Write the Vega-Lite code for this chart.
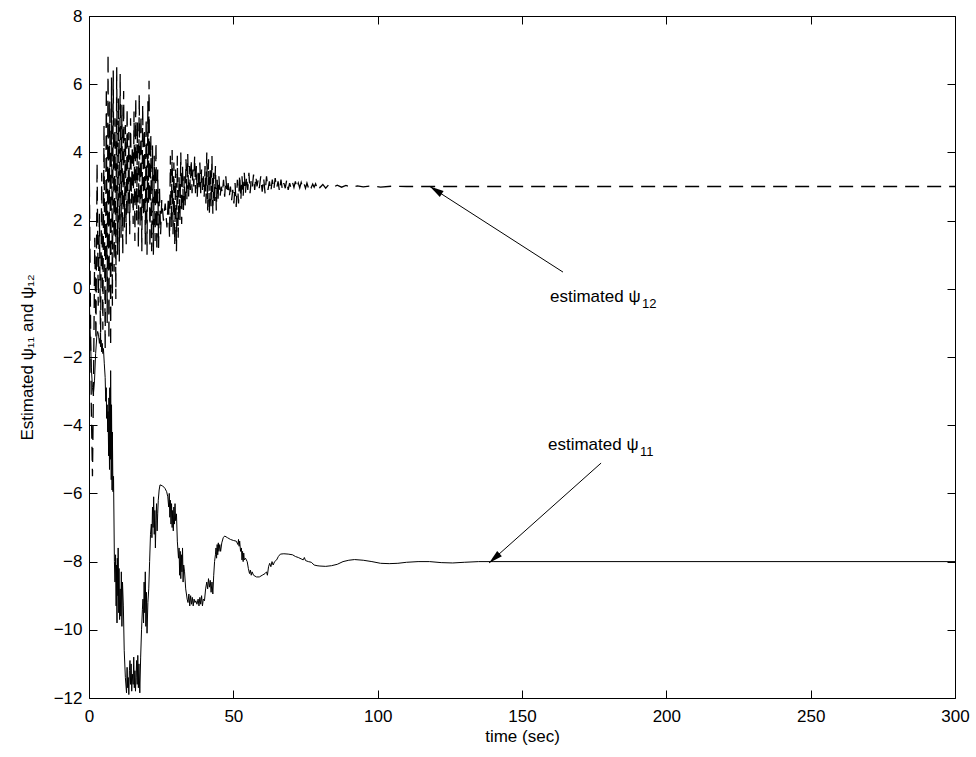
{
  "$schema": "https://vega.github.io/schema/vega-lite/v6.json",
  "width": 866,
  "height": 682,
  "autosize": {"type": "none"},
  "padding": {"left": 89, "top": 16, "right": 21, "bottom": 59},
  "background": "white",
  "config": {
    "view": {"stroke": "black", "strokeWidth": 1},
    "font": "Liberation Sans",
    "axis": {
      "labelFont": "Liberation Sans", "titleFont": "Liberation Sans",
      "labelFontSize": 17, "titleFontSize": 17, "titleFontWeight": "normal",
      "labelColor": "black", "titleColor": "black", "tickColor": "black",
      "domain": false, "grid": false, "tickSize": -8, "tickWidth": 1,
      "labelFlush": false, "labelOverlap": false
    }
  },
  "datasets": {
    "psi11": [
      {"t":0,"v":0},{"t":0.4,"v":-1.2},{"t":0.8,"v":-2.3},{"t":1.2,"v":-2.9},{"t":1.5,"v":-3.1},{"t":1.9,"v":-2.7},{"t":2.3,"v":-1.9},{"t":2.7,"v":-1.4},{"t":3.0,"v":-1.25},{"t":3.3,"v":-1.35},{"t":3.6,"v":-1.6},{"t":3.8,"v":-1.45},{"t":4.0,"v":-1.7},{"t":4.2,"v":-1.5},{"t":4.4,"v":-1.85},{"t":4.6,"v":-1.6},{"t":4.8,"v":-1.9},{"t":5.0,"v":-1.75},{"t":5.3,"v":-2.2},{"t":5.6,"v":-2.6},{"t":5.8,"v":-3.3},{"t":6.0,"v":-2.9},{"t":6.1,"v":-3.8},{"t":6.3,"v":-3.4},{"t":6.5,"v":-4.2},{"t":6.6,"v":-3.6},{"t":6.8,"v":-4.9},{"t":6.9,"v":-3.2},{"t":7.1,"v":-5.3},{"t":7.2,"v":-2.9},{"t":7.4,"v":-5.0},{"t":7.5,"v":-2.4},{"t":7.7,"v":-5.6},{"t":7.8,"v":-3.4},{"t":8.0,"v":-5.9},{"t":8.1,"v":-4.2},{"t":8.3,"v":-5.95},{"t":8.5,"v":-5.5},
      {"t":8.8,"v":-8.0},{"t":9.0,"v":-8.6},{"t":9.2,"v":-7.8},{"t":9.4,"v":-9.3},{"t":9.5,"v":-8.1},{"t":9.7,"v":-9.8},{"t":9.8,"v":-7.9},{"t":10.0,"v":-9.0},{"t":10.1,"v":-7.6},{"t":10.3,"v":-9.5},{"t":10.4,"v":-8.2},{"t":10.6,"v":-9.7},{"t":10.8,"v":-8.8},{"t":11.0,"v":-9.6},{"t":11.2,"v":-8.3},{"t":11.4,"v":-9.9},{"t":11.6,"v":-8.6},{"t":11.9,"v":-9.3},{"t":12.2,"v":-10.6},{"t":12.6,"v":-11.4},{"t":13.0,"v":-11.85},{"t":13.2,"v":-11.1},{"t":13.4,"v":-11.7},{"t":13.6,"v":-11.4},{"t":13.8,"v":-11.9},{"t":14.0,"v":-11.2},{"t":14.2,"v":-10.9},{"t":14.4,"v":-11.6},{"t":14.6,"v":-11.0},{"t":14.8,"v":-11.8},{"t":15.0,"v":-11.3},{"t":15.3,"v":-11.6},{"t":15.5,"v":-10.8},{"t":15.7,"v":-11.7},{"t":15.9,"v":-11.2},{"t":16.1,"v":-11.8},{"t":16.3,"v":-11.4},{"t":16.5,"v":-10.9},{"t":16.7,"v":-11.6},{"t":16.9,"v":-10.75},{"t":17.1,"v":-11.7},{"t":17.3,"v":-11.0},{"t":17.6,"v":-11.85},{"t":17.9,"v":-10.8},{"t":18.2,"v":-10.0},{"t":18.5,"v":-9.4},{"t":18.7,"v":-9.1},{"t":18.9,"v":-9.8},{"t":19.1,"v":-8.6},{"t":19.3,"v":-9.5},{"t":19.5,"v":-8.3},{"t":19.7,"v":-9.9},{"t":19.9,"v":-8.9},{"t":20.1,"v":-10.1},{"t":20.4,"v":-9.2},{"t":20.7,"v":-8.8},{"t":21.0,"v":-8.0},{"t":21.3,"v":-7.2},{"t":21.6,"v":-6.9},{"t":21.8,"v":-7.3},{"t":22.0,"v":-6.4},{"t":22.2,"v":-7.0},{"t":22.4,"v":-6.1},{"t":22.6,"v":-7.2},{"t":22.8,"v":-6.5},{"t":23.0,"v":-7.6},{"t":23.2,"v":-6.8},{"t":23.4,"v":-6.3},{"t":23.6,"v":-7.1},{"t":23.8,"v":-6.6},{"t":24.0,"v":-6.2},{"t":24.3,"v":-5.9},{"t":24.6,"v":-5.75},{"t":25.5,"v":-5.78},{"t":26.3,"v":-5.85},{"t":26.9,"v":-5.95},{"t":27.3,"v":-6.1},{"t":27.6,"v":-6.4},{"t":27.8,"v":-6.0},{"t":28.0,"v":-6.7},{"t":28.2,"v":-6.2},{"t":28.4,"v":-6.9},{"t":28.6,"v":-6.3},{"t":28.8,"v":-7.0},{"t":29.0,"v":-6.5},{"t":29.2,"v":-7.1},{"t":29.4,"v":-6.4},{"t":29.6,"v":-6.9},{"t":29.8,"v":-6.3},{"t":30.0,"v":-6.8},{"t":30.3,"v":-6.6},{"t":30.6,"v":-7.4},
      {"t":31.0,"v":-7.9},{"t":31.2,"v":-7.6},{"t":31.4,"v":-8.4},{"t":31.6,"v":-7.7},{"t":31.8,"v":-8.5},{"t":32.0,"v":-7.8},{"t":32.2,"v":-8.3},{"t":32.4,"v":-7.6},{"t":32.6,"v":-8.6},{"t":32.8,"v":-8.1},{"t":33.1,"v":-8.3},{"t":33.5,"v":-8.8},{"t":34.0,"v":-9.1},{"t":34.3,"v":-9.2},{"t":34.6,"v":-8.95},{"t":34.9,"v":-9.3},{"t":35.2,"v":-9.0},{"t":35.5,"v":-9.25},{"t":35.8,"v":-9.05},{"t":36.1,"v":-9.3},{"t":36.4,"v":-9.1},{"t":36.7,"v":-9.2},{"t":37.0,"v":-9.15},{"t":37.4,"v":-9.25},{"t":37.8,"v":-9.1},{"t":38.1,"v":-9.3},{"t":38.4,"v":-9.05},{"t":38.7,"v":-9.25},{"t":39.0,"v":-9.0},{"t":39.3,"v":-9.3},{"t":39.6,"v":-9.1},{"t":40.0,"v":-9.15},{"t":40.4,"v":-8.8},{"t":40.8,"v":-8.6},{"t":41.1,"v":-8.8},{"t":41.4,"v":-8.5},{"t":41.7,"v":-8.75},{"t":42.0,"v":-8.55},{"t":42.3,"v":-8.9},{"t":42.6,"v":-8.6},{"t":42.9,"v":-8.95},{"t":43.2,"v":-8.4},{"t":43.5,"v":-8.0},{"t":43.8,"v":-7.8},{"t":44.0,"v":-7.6},{"t":44.2,"v":-7.9},{"t":44.4,"v":-7.5},{"t":44.6,"v":-7.8},{"t":44.8,"v":-7.45},{"t":45.0,"v":-7.7},{"t":45.3,"v":-7.5},{"t":45.6,"v":-7.7},{"t":46.0,"v":-7.45},{"t":46.5,"v":-7.3},{"t":47.0,"v":-7.25},{"t":48.0,"v":-7.3},{"t":49.0,"v":-7.35},{"t":50.0,"v":-7.38},{"t":51.0,"v":-7.4},{"t":51.6,"v":-7.5},{"t":51.8,"v":-7.35},{"t":52.0,"v":-7.55},{"t":52.2,"v":-7.4},{"t":52.5,"v":-7.7},{"t":52.8,"v":-7.6},{"t":53.0,"v":-7.95},{"t":53.2,"v":-7.7},{"t":53.4,"v":-8.0},{"t":53.6,"v":-7.75},{"t":53.8,"v":-7.95},{"t":54.2,"v":-7.9},{"t":54.8,"v":-8.0},{"t":55.2,"v":-8.2},{"t":55.6,"v":-8.35},{"t":55.9,"v":-8.25},{"t":56.2,"v":-8.4},{"t":56.5,"v":-8.3},{"t":57.0,"v":-8.4},{"t":58.0,"v":-8.45},{"t":59.0,"v":-8.45},{"t":60.0,"v":-8.4},{"t":61.0,"v":-8.35},{"t":61.5,"v":-8.3},{"t":61.8,"v":-8.4},{"t":62.2,"v":-8.15},{"t":62.6,"v":-8.05},{"t":63.0,"v":-8.15},{"t":63.4,"v":-8.0},{"t":63.8,"v":-8.1},{"t":64.3,"v":-8.0},{"t":65.0,"v":-7.95},{"t":65.6,"v":-7.85},{"t":66.3,"v":-7.78},{"t":67.5,"v":-7.77},{"t":69.0,"v":-7.78},{"t":70.5,"v":-7.8},{"t":71.5,"v":-7.85},{"t":72.5,"v":-7.88},{"t":73.5,"v":-7.92},{"t":74.2,"v":-7.95},{"t":74.6,"v":-7.88},{"t":75.0,"v":-7.97},{"t":76.0,"v":-8.0},{"t":77.0,"v":-8.02},{"t":78.0,"v":-8.1},{"t":79.0,"v":-8.12},{"t":80.0,"v":-8.13},{"t":82.0,"v":-8.14},{"t":84.0,"v":-8.12},{"t":86.0,"v":-8.08},{"t":88.0,"v":-8.0},{"t":90.0,"v":-7.96},{"t":92.0,"v":-7.94},{"t":95.0,"v":-7.96},{"t":98.0,"v":-8.0},{"t":101.0,"v":-8.05},{"t":104.0,"v":-8.06},{"t":107.0,"v":-8.05},{"t":110.0,"v":-8.02},{"t":114.0,"v":-8.0},{"t":118.0,"v":-8.0},{"t":122.0,"v":-8.03},{"t":126.0,"v":-8.04},{"t":130.0,"v":-8.02},{"t":135.0,"v":-8.0},{"t":140.0,"v":-8.0},{"t":300.0,"v":-8.0}
    ],
    "psi12": [
      {"t":0.0,"v":4.4},{"t":0.4,"v":0.5},{"t":0.8,"v":-3.5},{"t":1.2,"v":-5.5},{"t":1.6,"v":-2.5},{"t":2.0,"v":1.5},{"t":2.4,"v":-1.5},{"t":2.8,"v":3.7},{"t":3.2,"v":-0.5},{"t":3.6,"v":2.2},{"t":4.0,"v":-1.6},{"t":4.4,"v":3.4},{"t":4.8,"v":-1.2},{"t":5.2,"v":4.8},{"t":5.6,"v":-1.8},{"t":6.0,"v":5.9},{"t":6.3,"v":-1.0},{"t":6.6,"v":6.9},{"t":6.9,"v":-1.5},{"t":7.2,"v":5.5},{"t":7.5,"v":-1.7},{"t":7.8,"v":6.2},{"t":8.1,"v":-0.5},{"t":8.4,"v":6.4},{"t":8.7,"v":0.5},{"t":9.0,"v":5.0},{"t":9.3,"v":-0.3},{"t":9.6,"v":6.5},{"t":9.9,"v":1.0},{"t":10.2,"v":5.6},{"t":10.5,"v":0.8},{"t":10.8,"v":6.3},{"t":11.1,"v":1.5},{"t":11.4,"v":5.4},{"t":11.7,"v":1.0},{"t":12.0,"v":5.8},{"t":12.3,"v":1.8},{"t":12.6,"v":4.8},{"t":12.9,"v":1.3},{"t":13.2,"v":5.3},{"t":13.5,"v":2.2},{"t":13.8,"v":4.6},{"t":14.1,"v":1.6},{"t":14.4,"v":5.0},{"t":14.7,"v":2.5},{"t":15.0,"v":4.2},{"t":15.3,"v":1.9},{"t":15.6,"v":5.2},{"t":15.9,"v":1.4},{"t":16.2,"v":5.6},{"t":16.5,"v":2.0},{"t":16.8,"v":4.9},{"t":17.1,"v":1.2},{"t":17.4,"v":5.7},{"t":17.7,"v":1.8},{"t":18.0,"v":5.1},{"t":18.3,"v":1.1},{"t":18.6,"v":5.4},{"t":18.9,"v":2.1},{"t":19.2,"v":4.7},{"t":19.5,"v":1.3},{"t":19.8,"v":5.0},{"t":20.1,"v":1.0},{"t":20.4,"v":5.5},{"t":20.6,"v":2.5},{"t":20.8,"v":6.1},{"t":21.1,"v":1.2},{"t":21.4,"v":4.5},{"t":21.7,"v":1.1},{"t":22.0,"v":4.2},{"t":22.3,"v":1.0},{"t":22.6,"v":3.9},{"t":22.9,"v":1.4},{"t":23.2,"v":4.3},{"t":23.5,"v":1.1},{"t":23.8,"v":3.5},{"t":24.1,"v":1.2},{"t":24.4,"v":3.0},{"t":24.8,"v":1.6},{"t":25.2,"v":2.6},{"t":25.8,"v":2.0},{"t":26.4,"v":2.5},{"t":27.0,"v":1.8},{"t":27.5,"v":2.7},{"t":27.9,"v":1.5},{"t":28.2,"v":3.9},{"t":28.5,"v":1.8},{"t":28.8,"v":4.07},{"t":29.1,"v":1.6},{"t":29.4,"v":3.7},{"t":29.7,"v":1.3},{"t":30.0,"v":3.5},{"t":30.3,"v":1.1},{"t":30.6,"v":3.9},{"t":30.9,"v":1.5},{"t":31.2,"v":3.3},{"t":31.5,"v":2.0},{"t":31.8,"v":4.0},{"t":32.1,"v":1.9},{"t":32.4,"v":3.6},{"t":32.7,"v":2.3},{"t":33.0,"v":3.3},{"t":33.3,"v":2.4},{"t":33.6,"v":3.8},{"t":33.9,"v":2.6},{"t":34.2,"v":3.95},{"t":34.5,"v":2.7},{"t":34.8,"v":3.6},{"t":35.1,"v":2.9},{"t":35.4,"v":3.8},{"t":35.7,"v":2.8},{"t":36.0,"v":3.5},{"t":36.3,"v":3.0},{"t":36.6,"v":3.9},{"t":36.9,"v":2.8},{"t":37.2,"v":3.6},{"t":37.5,"v":2.7},{"t":37.8,"v":3.4},{"t":38.1,"v":2.9},{"t":38.4,"v":3.7},{"t":38.7,"v":2.8},{"t":39.0,"v":3.5},{"t":39.3,"v":2.9},{"t":39.6,"v":3.3},{"t":39.9,"v":2.7},{"t":40.2,"v":3.6},{"t":40.5,"v":2.5},{"t":40.8,"v":4.0},{"t":41.1,"v":2.3},{"t":41.4,"v":3.8},{"t":41.7,"v":2.2},{"t":42.0,"v":3.5},{"t":42.3,"v":2.4},{"t":42.6,"v":3.9},{"t":42.9,"v":2.2},{"t":43.2,"v":3.4},{"t":43.5,"v":2.5},{"t":43.8,"v":3.6},{"t":44.1,"v":2.3},{"t":44.4,"v":3.2},{"t":44.7,"v":2.6},{"t":45.0,"v":3.3},{"t":45.4,"v":2.7},{"t":45.8,"v":3.0},{"t":46.2,"v":2.8},{"t":46.6,"v":3.2},{"t":47.0,"v":2.7},{"t":47.4,"v":3.3},{"t":47.8,"v":2.8},{"t":48.2,"v":3.1},{"t":48.6,"v":2.7},{"t":49.0,"v":3.0},{"t":49.4,"v":2.6},{"t":49.8,"v":2.9},{"t":50.2,"v":2.5},{"t":50.6,"v":3.1},{"t":51.0,"v":2.4},{"t":51.4,"v":3.2},{"t":51.8,"v":2.5},{"t":52.2,"v":3.35},{"t":52.6,"v":2.6},{"t":53.0,"v":3.3},{"t":53.4,"v":2.7},{"t":53.8,"v":3.4},{"t":54.2,"v":2.8},{"t":54.6,"v":3.3},{"t":55.0,"v":2.9},{"t":55.4,"v":3.4},{"t":55.8,"v":2.8},{"t":56.2,"v":3.2},{"t":56.6,"v":3.0},{"t":57.0,"v":3.35},{"t":57.4,"v":2.9},{"t":57.8,"v":3.3},{"t":58.2,"v":3.0},{"t":58.6,"v":3.2},{"t":59.0,"v":2.95},{"t":59.5,"v":3.3},{"t":60.0,"v":2.85},{"t":60.5,"v":3.25},{"t":61.0,"v":2.8},{"t":61.5,"v":3.3},{"t":62.0,"v":2.9},{"t":62.5,"v":3.15},{"t":63.0,"v":2.85},{"t":63.5,"v":3.2},{"t":64.0,"v":2.9},{"t":64.5,"v":3.25},{"t":65.0,"v":2.95},{"t":65.5,"v":3.15},{"t":66.0,"v":2.85},{"t":66.5,"v":3.2},{"t":67.0,"v":2.9},{"t":67.5,"v":3.1},{"t":68.0,"v":2.95},{"t":68.5,"v":3.2},{"t":69.0,"v":2.9},{"t":69.5,"v":3.1},{"t":70.0,"v":2.95},{"t":70.5,"v":3.12},{"t":71.0,"v":2.97},{"t":71.5,"v":3.15},{"t":72.0,"v":2.95},{"t":72.5,"v":3.1},{"t":73.0,"v":2.96},{"t":73.5,"v":3.12},{"t":74.0,"v":2.97},{"t":74.5,"v":3.08},{"t":75.0,"v":2.95},{"t":75.5,"v":3.1},{"t":76.0,"v":2.96},{"t":76.5,"v":3.08},{"t":77.0,"v":2.97},{"t":77.5,"v":3.07},{"t":78.0,"v":2.98},{"t":78.5,"v":3.08},{"t":79.0,"v":2.96},{"t":79.5,"v":3.06},{"t":80.0,"v":2.97},{"t":81.0,"v":3.06},{"t":82.0,"v":2.95},{"t":83.0,"v":3.05},{"t":84.5,"v":2.97},{"t":86.0,"v":3.04},{"t":87.5,"v":2.98},{"t":89.0,"v":3.03},{"t":91.0,"v":2.97},{"t":93.0,"v":3.02},{"t":95.0,"v":2.99},{"t":98.0,"v":3.02},{"t":101.0,"v":2.98},{"t":105.0,"v":3.01},{"t":110.0,"v":3.0},{"t":300.0,"v":3.0}
    ],
    "arrows": [
      {"name": "psi12", "t": 164.2, "v": 0.49, "t2": 118.1, "v2": 3.0},
      {"name": "psi11", "t": 177.4, "v": -5.11, "t2": 138.6, "v2": -8.04}
    ],
    "labels": [
      {"t": 159.7, "v": -0.39, "text": "estimated ψ", "sub": "12"},
      {"t": 159.0, "v": -4.73, "text": "estimated ψ", "sub": "11"}
    ]
  },
  "layer": [
    {
      "data": {"name": "psi11"},
      "mark": {"type": "line", "color": "black", "strokeWidth": 1, "clip": true},
      "encoding": {
        "x": {"field": "t", "type": "quantitative", "scale": {"domain": [0, 300], "nice": false, "zero": false},
              "axis": {"orient": "bottom", "values": [0, 50, 100, 150, 200, 250, 300], "title": "time (sec)", "labelPadding": 18, "titlePadding": 4}},
        "y": {"field": "v", "type": "quantitative", "scale": {"domain": [-12, 8], "nice": false, "zero": false},
              "axis": {"orient": "left", "values": [-12, -10, -8, -6, -4, -2, 0, 2, 4, 6, 8], "title": "Estimated ψ₁₁ and ψ₁₂", "labelPadding": 15, "titlePadding": 17}}
      }
    },
    {
      "data": {"name": "psi12"},
      "mark": {"type": "line", "color": "black", "strokeWidth": 1.3, "strokeDash": [14, 8], "clip": true},
      "encoding": {
        "x": {"field": "t", "type": "quantitative", "axis": null},
        "y": {"field": "v", "type": "quantitative", "axis": null}
      }
    },
    {
      "data": {"name": "arrows"},
      "mark": {"type": "rule", "color": "black", "strokeWidth": 1},
      "encoding": {
        "x": {"field": "t", "type": "quantitative", "axis": null},
        "y": {"field": "v", "type": "quantitative", "axis": null},
        "x2": {"field": "t2"},
        "y2": {"field": "v2"}
      }
    },
    {
      "data": {"name": "arrows"},
      "transform": [{"filter": "datum.name === 'psi12'"}],
      "mark": {"type": "point", "shape": "M0,0L-0.5,2L0.5,2Z", "size": 196, "filled": true, "color": "black", "opacity": 1, "angle": 302.6},
      "encoding": {
        "x": {"field": "t2", "type": "quantitative", "axis": null},
        "y": {"field": "v2", "type": "quantitative", "axis": null}
      }
    },
    {
      "data": {"name": "arrows"},
      "transform": [{"filter": "datum.name === 'psi11'"}],
      "mark": {"type": "point", "shape": "M0,0L-0.5,2L0.5,2Z", "size": 196, "filled": true, "color": "black", "opacity": 1, "angle": 228.2},
      "encoding": {
        "x": {"field": "t2", "type": "quantitative", "axis": null},
        "y": {"field": "v2", "type": "quantitative", "axis": null}
      }
    },
    {
      "data": {"name": "labels"},
      "mark": {"type": "text", "align": "left", "baseline": "alphabetic", "font": "Liberation Sans", "fontSize": 17, "color": "black"},
      "encoding": {
        "x": {"field": "t", "type": "quantitative", "axis": null},
        "y": {"field": "v", "type": "quantitative", "axis": null},
        "text": {"field": "text"}
      }
    },
    {
      "data": {"name": "labels"},
      "mark": {"type": "text", "align": "left", "baseline": "alphabetic", "font": "Liberation Sans", "fontSize": 13, "color": "black", "dx": 92, "dy": 6},
      "encoding": {
        "x": {"field": "t", "type": "quantitative", "axis": null},
        "y": {"field": "v", "type": "quantitative", "axis": null},
        "text": {"field": "sub"}
      }
    },
    {
      "data": {"name": "arrows"},
      "mark": {"type": "point", "opacity": 0},
      "encoding": {
        "x": {"field": "t", "type": "quantitative", "axis": {"orient": "top", "values": [0, 50, 100, 150, 200, 250, 300], "labels": false, "title": null}},
        "y": {"field": "v", "type": "quantitative", "axis": {"orient": "right", "values": [-12, -10, -8, -6, -4, -2, 0, 2, 4, 6, 8], "labels": false, "title": null}}
      }
    }
  ],
  "resolve": {"axis": {"x": "independent", "y": "independent"}}
}
